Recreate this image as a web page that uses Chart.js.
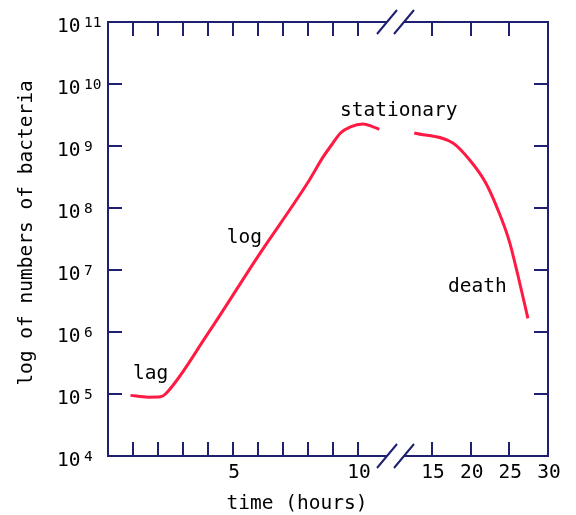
<!DOCTYPE html>
<html>
<head>
<meta charset="utf-8">
<script src="https://cdn.jsdelivr.net/npm/chart.js@4.4.1/dist/chart.umd.min.js"></script>
<style>
  html, body { margin: 0; padding: 0; background: #ffffff; }
  #wrap { width: 576px; height: 515px; }
</style>
</head>
<body>
<div id="wrap"><canvas id="growth-chart" width="576" height="515"></canvas></div>
<script>
// lag -> log -> stationary (before the axis break)
const GROWTH_HOURS = [0.9, 1.6, 2.1, 2.3, 4.0, 6.0, 8.0, 8.6, 9.0, 9.3, 9.7, 10.2, 10.6, 10.85];
const GROWTH_CELLS = [9.5e4, 8.9e4, 9.0e4, 1.0e5, 9.5e5, 1.66e7, 2.6e8, 6.6e8, 1.12e9, 1.62e9, 2.04e9, 2.26e9, 2.04e9, 1.86e9];
// stationary -> death (after the axis break)
const DEATH_HOURS = [12.7, 17.7, 19.9, 21.9, 23.5, 25.0, 26.1, 27.4];
const DEATH_CELLS = [1.62e9, 1.12e9, 5.9e8, 2.6e8, 9.5e7, 2.9e7, 8.3e6, 1.66e6];

const EARLY_TICK_HOURS = [1, 2, 3, 4, 5, 6, 7, 8, 9, 10];
const EARLY_LABEL_HOURS = [5, 10];
const LATE_TICK_HOURS = [15, 20, 25, 30];
const DECADE_EXPONENTS = [4, 5, 6, 7, 8, 9, 10, 11];

const PHASE_LABELS = [
  { text: 'lag', axis: 'xEarly', hour: 1.0, cells: 1.75e5 },
  { text: 'log', axis: 'xEarly', hour: 4.75, cells: 2.75e7 },
  { text: 'stationary', axis: 'xEarly', hour: 9.28, cells: 3.0e9 },
  { text: 'death', axis: 'xLate', hour: 17.07, cells: 4.4e6 },
];

const X_TITLE = 'time (hours)';
const Y_TITLE = 'log of numbers of bacteria';

const AXIS_COLOR = '#1f2170';
const CURVE_COLOR = '#ff1a44';
const TEXT_COLOR = '#000000';
const FONT = '"DejaVu Sans Mono", "Liberation Mono", monospace';

const canvas = document.querySelector('#growth-chart');

function toPoints(hours, cells) {
  return hours.map((h, i) => ({ x: h, y: cells[i] }));
}

const hiddenAxis = {
  ticks: { display: false },
  grid: { display: false, drawTicks: false },
  border: { display: false },
};

const frameAndLabels = {
  id: 'frameAndLabels',
  afterDraw(chart) {
    const { ctx, chartArea: area, scales } = chart;
    const early = scales.xEarly;
    const late = scales.xLate;
    const y = scales.y;
    const breakX = early.right;
    const tickLen = 14;

    ctx.save();
    ctx.strokeStyle = AXIS_COLOR;
    ctx.lineWidth = 2;

    // frame, open between the break marks
    ctx.beginPath();
    ctx.moveTo(breakX - 9, area.top);
    ctx.lineTo(area.left, area.top);
    ctx.lineTo(area.left, area.bottom);
    ctx.lineTo(breakX - 9, area.bottom);
    ctx.moveTo(breakX + 8, area.bottom);
    ctx.lineTo(area.right, area.bottom);
    ctx.lineTo(area.right, area.top);
    ctx.lineTo(breakX + 8, area.top);

    // break marks
    [-9, 8].forEach((dx) => {
      [area.top, area.bottom].forEach((yy) => {
        ctx.moveTo(breakX + dx - 10, yy + 12);
        ctx.lineTo(breakX + dx + 10, yy - 12);
      });
    });

    // inward ticks, top and bottom
    [early, late].forEach((scale) => {
      scale.ticks.forEach((t) => {
        const px = Math.round(scale.getPixelForValue(t.value));
        if (px >= area.right - 1) return;
        ctx.moveTo(px, area.bottom);
        ctx.lineTo(px, area.bottom - tickLen);
        ctx.moveTo(px, area.top);
        ctx.lineTo(px, area.top + tickLen);
      });
    });

    // inward ticks, left and right
    y.ticks.forEach((t) => {
      const py = Math.round(y.getPixelForValue(t.value));
      if (py <= area.top + 1 || py >= area.bottom - 1) return;
      ctx.moveTo(area.left, py);
      ctx.lineTo(area.left + tickLen, py);
      ctx.moveTo(area.right, py);
      ctx.lineTo(area.right - tickLen, py);
    });
    ctx.stroke();

    ctx.fillStyle = TEXT_COLOR;

    // y tick labels: 10 with raised exponent
    ctx.textBaseline = 'alphabetic';
    ctx.textAlign = 'left';
    DECADE_EXPONENTS.forEach((e) => {
      const py = y.getPixelForValue(Math.pow(10, e));
      ctx.font = '19.5px ' + FONT;
      ctx.fillText('10', 57, py + 10);
      ctx.font = '14.5px ' + FONT;
      ctx.fillText(String(e), 84, py + 5);
    });

    // x tick labels
    ctx.font = '19.5px ' + FONT;
    ctx.textAlign = 'center';
    EARLY_LABEL_HOURS.forEach((h) => {
      ctx.fillText(String(h), early.getPixelForValue(h) + 1, area.bottom + 22);
    });
    LATE_TICK_HOURS.forEach((h) => {
      ctx.fillText(String(h), late.getPixelForValue(h) + 1, area.bottom + 22);
    });

    // axis titles
    ctx.fillText(X_TITLE, 297, area.bottom + 53);
    ctx.save();
    ctx.translate(32, 233);
    ctx.rotate(-Math.PI / 2);
    ctx.fillText(Y_TITLE, 0, 0);
    ctx.restore();

    // phase labels
    ctx.textAlign = 'left';
    PHASE_LABELS.forEach((label) => {
      const px = scales[label.axis].getPixelForValue(label.hour);
      const py = y.getPixelForValue(label.cells);
      ctx.fillText(label.text, px, py);
    });

    ctx.restore();
  },
};

const curveStyle = {
  borderColor: CURVE_COLOR,
  borderWidth: 3,
  pointRadius: 0,
  fill: false,
  cubicInterpolationMode: 'monotone',
  yAxisID: 'y',
};

new Chart(canvas, {
  type: 'line',
  data: {
    datasets: [
      { ...curveStyle, label: 'growth', xAxisID: 'xEarly', data: toPoints(GROWTH_HOURS, GROWTH_CELLS) },
      { ...curveStyle, label: 'death', xAxisID: 'xLate', data: toPoints(DEATH_HOURS, DEATH_CELLS) },
    ],
  },
  options: {
    responsive: false,
    animation: false,
    devicePixelRatio: 1,
    layout: { padding: { left: 108, right: 28, top: 22, bottom: 59 } },
    plugins: {
      legend: { display: false },
      tooltip: { enabled: false },
    },
    scales: {
      xEarly: {
        ...hiddenAxis,
        type: 'linear',
        position: 'bottom',
        stack: 'time',
        stackWeight: 288,
        min: 0,
        max: 11.52,
        afterBuildTicks(scale) {
          scale.ticks = EARLY_TICK_HOURS.map((v) => ({ value: v }));
        },
      },
      xLate: {
        ...hiddenAxis,
        type: 'linear',
        position: 'bottom',
        stack: 'time',
        stackWeight: 152,
        min: 10.34,
        max: 30,
        afterBuildTicks(scale) {
          scale.ticks = LATE_TICK_HOURS.map((v) => ({ value: v }));
        },
      },
      y: {
        ...hiddenAxis,
        type: 'logarithmic',
        position: 'left',
        min: 1e4,
        max: 1e11,
        afterBuildTicks(scale) {
          scale.ticks = DECADE_EXPONENTS.map((e) => ({ value: Math.pow(10, e) }));
        },
      },
    },
  },
  plugins: [frameAndLabels],
});
</script>
</body>
</html>
